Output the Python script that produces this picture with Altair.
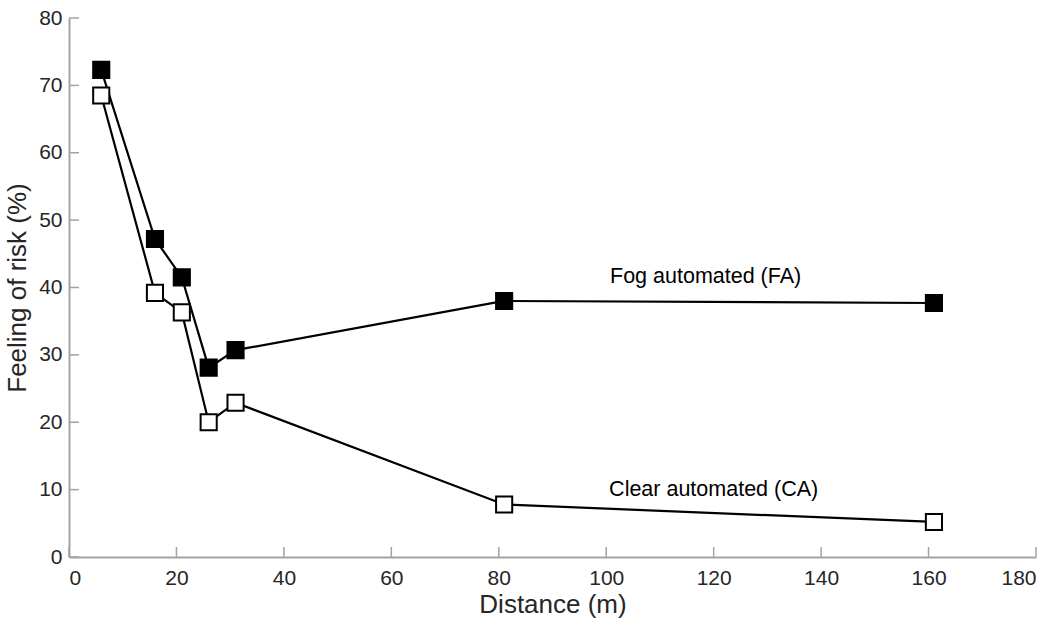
import altair as alt
import pandas as pd

distance = [6, 16, 21, 26, 31, 81, 161]
fog_risk = [72.3, 47.2, 41.5, 28.1, 30.7, 38.0, 37.7]
clear_risk = [68.5, 39.2, 36.3, 20.0, 22.9, 7.8, 5.2]

label_text = ["Fog automated (FA)", "Clear automated (CA)"]
label_x = [118.5, 120.0]
label_y = [41.6, 9.9]

y_ticks = [0, 10, 20, 30, 40, 50, 60, 70, 80]
x_ticks = [0, 20, 40, 60, 80, 100, 120, 140, 160, 180]

W, H = 967, 539
FONT = "Liberation Sans"
AXIS_GRAY = "#a3a3a3"
LABEL_COLOR = "#262626"

fog = pd.DataFrame({"d": distance, "r": fog_risk})
clear = pd.DataFrame({"d": distance, "r": clear_risk})
labels = pd.DataFrame({"t": label_text, "x": label_x, "y": label_y})
yt = pd.DataFrame({"v": y_ticks})
xt = pd.DataFrame({"v": x_ticks})

xscale = alt.Scale(domain=[0, 180], nice=False, zero=False)
yscale = alt.Scale(domain=[0, 80], nice=False, zero=False)

xaxis = alt.Axis(values=x_ticks, title="Distance (m)", grid=False, tickSize=0,
                 labelPadding=10, titlePadding=3)
yaxis = alt.Axis(values=y_ticks, title="Feeling of risk (%)", grid=False, tickSize=0,
                 labelPadding=7, titlePadding=8)

X = alt.X("d:Q", scale=xscale, axis=xaxis)
Y = alt.Y("r:Q", scale=yscale, axis=yaxis)

fog_line = alt.Chart(fog).mark_line(color="black", strokeWidth=2.2).encode(x=X, y=Y)
clear_line = alt.Chart(clear).mark_line(color="black", strokeWidth=2.2).encode(x=X, y=Y)
fog_pts = alt.Chart(fog).mark_point(shape="square", size=260, filled=True, fill="black",
                                    stroke="black", strokeWidth=2, opacity=1).encode(x=X, y=Y)
clear_pts = alt.Chart(clear).mark_point(shape="square", size=260, filled=True, fill="white",
                                        stroke="black", strokeWidth=2, opacity=1).encode(x=X, y=Y)

text = alt.Chart(labels).mark_text(font=FONT, fontSize=21.5, color="black",
                                   align="center", baseline="middle").encode(
    x=alt.X("x:Q", scale=xscale), y=alt.Y("y:Q", scale=yscale), text="t:N")

ytick_rules = alt.Chart(yt).mark_rule(color=AXIS_GRAY, strokeWidth=1.5).encode(
    y=alt.Y("v:Q", scale=yscale), x=alt.value(0), x2=alt.value(10))
xtick_rules = alt.Chart(xt).mark_rule(color=AXIS_GRAY, strokeWidth=1.5).encode(
    x=alt.X("v:Q", scale=xscale), y=alt.value(H), y2=alt.value(H - 10))

chart = alt.layer(
    ytick_rules, xtick_rules, fog_line, clear_line, fog_pts, clear_pts, text
).properties(
    width=W, height=H,
    autosize=alt.AutoSizeParams(type="none"),
    padding={"left": 69, "top": 18, "right": 20, "bottom": 61},
    background="white",
).configure_view(stroke=None).configure_axis(
    domainColor=AXIS_GRAY, domainWidth=2,
    labelFont=FONT, labelFontSize=21, labelColor=LABEL_COLOR,
    titleFont=FONT, titleFontSize=26, titleFontWeight="normal", titleColor=LABEL_COLOR,
)

chart.save("out.html", embed_options={"renderer": "svg", "actions": False})
